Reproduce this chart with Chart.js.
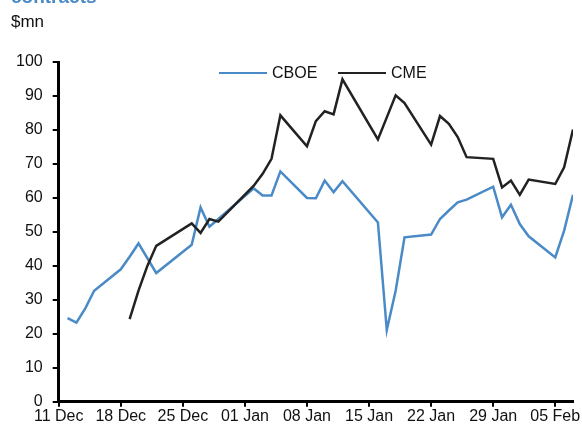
<!DOCTYPE html>
<html>
<head>
<meta charset="utf-8">
<script src="https://cdn.jsdelivr.net/npm/chart.js@4.4.1/dist/chart.umd.min.js"></script>
<style>
 body { margin:0; background:#fff; font-family:"Liberation Sans", Arial, sans-serif; }
 #wrap { position:relative; width:582px; height:426px; overflow:hidden; }
 #title { position:absolute; left:11px; top:-14px; font-size:19px; font-weight:bold; color:#4a8ac6; }
 #unit { position:absolute; left:11px; top:12px; font-size:17px; color:#111; }
 .leg { position:absolute; top:64px; font-size:16px; color:#111; line-height:18px; }
 .leg span { display:inline-block; width:48px; height:2.5px; vertical-align:middle; margin-right:5px; position:relative; top:-1px; }
</style>
</head>
<body>
<div id="wrap">
 <div id="title">contracts</div>
 <div id="unit">$mn</div>
 <canvas id="myChart" width="582" height="426"></canvas>
 <div class="leg" style="left:219px"><span style="background:#4a8ac6"></span>CBOE</div>
 <div class="leg" style="left:338px"><span style="background:#222"></span>CME</div>
</div>
<script>
// days counted from 11 Dec
var dayTicks = [0, 7, 14, 21, 28, 35, 42, 49, 56];
var dayLabels = ['11 Dec', '18 Dec', '25 Dec', '01 Jan', '08 Jan', '15 Jan', '22 Jan', '29 Jan', '05 Feb'];

var cboeDays = [1, 2, 3, 4, 7, 8, 9, 11, 15, 16, 17, 18, 22, 23, 24, 25, 28, 29, 30, 31, 32, 36, 37, 38, 39, 42, 43, 44, 45, 46, 49, 50, 51, 52, 53, 56, 57, 58];
var cboeValues = [24.6, 23.3, 27.5, 32.7, 39.0, 42.7, 46.6, 37.9, 46.2, 57.2, 51.5, 53.8, 62.8, 60.7, 60.7, 67.8, 60.0, 59.9, 65.1, 61.7, 64.9, 52.8, 21.1, 32.7, 48.4, 49.2, 53.8, 56.3, 58.7, 59.5, 63.3, 54.3, 58.0, 52.3, 48.7, 42.5, 50.4, 60.9];

var cmeDays = [8, 9, 10, 11, 15, 16, 17, 18, 22, 23, 24, 25, 28, 29, 30, 31, 32, 36, 37, 38, 39, 42, 43, 44, 45, 46, 49, 50, 51, 52, 53, 56, 57, 58];
var cmeValues = [24.3, 32.7, 40.0, 45.9, 52.5, 49.7, 53.8, 53.0, 63.6, 67.1, 71.5, 84.3, 75.2, 82.6, 85.5, 84.6, 94.9, 77.2, 83.7, 90.2, 87.9, 75.7, 84.1, 81.8, 77.9, 72.0, 71.5, 63.1, 65.1, 60.9, 65.4, 64.1, 69.0, 80.1];

function toPoints(days, values) {
  return days.map(function (d, i) { return { x: d, y: values[i] }; });
}

Chart.defaults.font.family = '"Liberation Sans", Arial, sans-serif';
Chart.defaults.font.size = 16;
Chart.defaults.color = '#111';

var ctx = document.getElementById('myChart').getContext('2d');
window.chart = new Chart(ctx, {
  type: 'line',
  data: {
    datasets: [
      {
        label: 'CME',
        data: toPoints(cmeDays, cmeValues),
        borderColor: '#222',
        borderWidth: 2.5,
        pointRadius: 0,
        tension: 0
      },
      {
        label: 'CBOE',
        data: toPoints(cboeDays, cboeValues),
        borderColor: '#4a8ac6',
        borderWidth: 2.5,
        pointRadius: 0,
        tension: 0
      }
    ]
  },
  options: {
    responsive: false,
    animation: false,
    layout: { padding: { left: 6, right: 9, top: 62, bottom: 0 } },
    plugins: { legend: { display: false }, tooltip: { enabled: false } },
    scales: {
      x: {
        type: 'linear',
        min: 0,
        max: 58,
        afterBuildTicks: function (scale) {
          scale.ticks = dayTicks.map(function (v) { return { value: v }; });
        },
        ticks: {
          autoSkip: false,
          maxRotation: 0,
          padding: 0,
          callback: function (v) { return dayLabels[dayTicks.indexOf(v)]; }
        },
        grid: { drawOnChartArea: false, tickLength: 5, tickColor: '#000', lineWidth: 2 },
        border: { color: '#000', width: 3 }
      },
      y: {
        min: 0,
        max: 100,
        ticks: { stepSize: 10, padding: 10 },
        grid: { drawOnChartArea: false, tickLength: 6, tickColor: '#000', lineWidth: 2 },
        border: { color: '#000', width: 3 }
      }
    }
  }
});
</script>
</body>
</html>
